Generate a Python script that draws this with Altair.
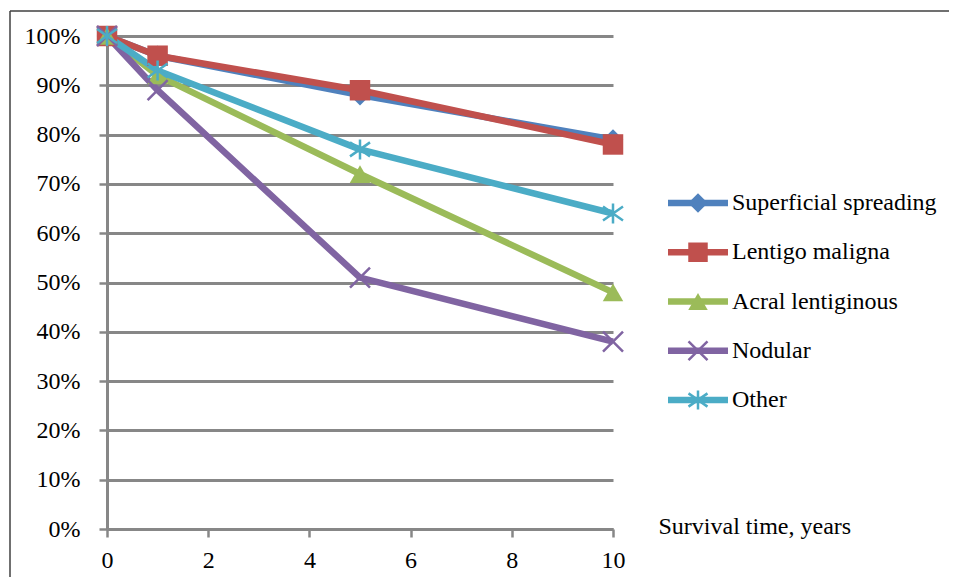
import altair as alt
import pandas as pd

# ---- data ----
years = [0, 1, 5, 10]
series_names = ["Superficial spreading", "Lentigo maligna", "Acral lentiginous", "Nodular", "Other"]
superficial = [100, 96, 88, 79]
lentigo = [100, 96, 89, 78]
acral = [100, 92, 72, 48]
nodular = [100, 89, 51, 38]
other = [100, 93, 77, 64]
x_ticks = [0, 2, 4, 6, 8, 10]
y_ticks = [0.0, 0.1, 0.2, 0.3, 0.4, 0.5, 0.6, 0.7, 0.8, 0.9, 1.0]

# ---- styling ----
colors = ["#4F81BD", "#C0504D", "#9BBB59", "#8064A2", "#4BACC6"]
x_path = "M-1,-1L1,1M-1,1L1,-1"
star_path = "M0,-1L0,1M-1,-0.7L1,0.7M-1,0.7L1,-0.7"
shapes = ["diamond", "square", "triangle-up", x_path, star_path]
filled_series = series_names[:3]
stroked_series = series_names[3:]
FONT = "'Liberation Serif', 'DejaVu Serif', serif"
GRAY = "#878787"

all_vals = [superficial, lentigo, acral, nodular, other]
rows = []
for name, vals in zip(series_names, all_vals):
    for x, v in zip(years, vals):
        rows.append({"series": name, "year": x, "value": v / 100.0})
df = pd.DataFrame(rows)
legend_df = pd.DataFrame({"series": series_names})

color_scale = alt.Scale(domain=series_names, range=colors)
shape_scale = alt.Scale(domain=series_names, range=shapes)

x_enc = alt.X(
    "year:Q",
    scale=alt.Scale(domain=[0, 10], nice=False, zero=False),
    axis=alt.Axis(
        values=x_ticks, grid=False, title="Survival time, years",
        titleX=551, titleY=4, titleAlign="left", titleBaseline="alphabetic",
        titleAngle=0, titleFontWeight="normal", titleFontSize=24, titleFont=FONT,
        titleColor="black", labelPadding=11, tickSize=8, labelFlush=False,
    ),
)
y_enc = alt.Y(
    "value:Q",
    scale=alt.Scale(domain=[0, 1], nice=False),
    axis=alt.Axis(values=y_ticks, format=".0%", title=None, grid=True,
                  tickSize=8, labelPadding=19, labelFlush=False),
)
color_enc = alt.Color("series:N", scale=color_scale, legend=None)
shape_enc = alt.Shape("series:N", scale=shape_scale, legend=None)

base = alt.Chart(df)
lines = base.mark_line(strokeWidth=6.5, strokeCap="butt", strokeJoin="round").encode(
    x=x_enc, y=y_enc, color=color_enc, detail="series:N",
    order=alt.Order("year:Q"),
)
pts_filled = base.transform_filter(
    alt.FieldOneOfPredicate(field="series", oneOf=filled_series)
).mark_point(filled=True, size=420, opacity=1).encode(
    x="year:Q", y="value:Q", color=color_enc, shape=shape_enc
)
pts_stroked = base.transform_filter(
    alt.FieldOneOfPredicate(field="series", oneOf=stroked_series)
).mark_point(filled=False, size=400, strokeWidth=2.5, opacity=1).encode(
    x="year:Q", y="value:Q", color=color_enc, shape=shape_enc
)
main = alt.layer(lines, pts_filled, pts_stroked)

# ---- legend drawn from the series list ----
leg_y = alt.Y("series:N", scale=alt.Scale(type="point", domain=series_names,
                                           range=[167, 364], padding=0), axis=None)
lbase = alt.Chart(legend_df)
leg_line = lbase.mark_rule(strokeWidth=6.5).encode(
    x=alt.value(561), x2=alt.value(621), y=leg_y, color=color_enc
)
leg_pf = lbase.transform_filter(
    alt.FieldOneOfPredicate(field="series", oneOf=filled_series)
).mark_point(filled=True, size=380, opacity=1).encode(
    x=alt.value(591), y=leg_y, color=color_enc, shape=shape_enc
)
leg_ps = lbase.transform_filter(
    alt.FieldOneOfPredicate(field="series", oneOf=stroked_series)
).mark_point(filled=False, size=360, strokeWidth=2.5, opacity=1).encode(
    x=alt.value(591), y=leg_y, color=color_enc, shape=shape_enc
)
leg_text = lbase.mark_text(align="left", baseline="middle", font=FONT,
                           fontSize=24, color="black").encode(
    x=alt.value(625), y=leg_y, text="series:N"
)
legend = alt.layer(leg_line, leg_pf, leg_ps, leg_text)

# ---- outer frame (top and left edges visible) ----
frame_data = alt.Data(values=[{"k": 1}])
frame_top = alt.Chart(frame_data).mark_rule(color="#404040", strokeWidth=1.5).encode(
    x=alt.value(-97), x2=alt.value(850), y=alt.value(-25)
)
frame_left = alt.Chart(frame_data).mark_rule(color="#404040", strokeWidth=1.5).encode(
    x=alt.value(-97), y=alt.value(-25), y2=alt.value(560)
)

chart = alt.layer(frame_top, frame_left, main, legend).resolve_scale(
    y="independent"
).properties(
    width=506, height=493,
    autosize=alt.AutoSizeParams(type="none"),
    padding={"left": 99, "top": 28, "right": 336, "bottom": 48},
    background="white",
).configure_view(stroke=None).configure_axis(
    domainColor=GRAY, domainWidth=3, tickColor=GRAY, tickWidth=2.5,
    gridColor=GRAY, gridWidth=3, gridOpacity=1,
    labelFont=FONT, labelFontSize=24, labelColor="black",
)

chart.save("out.html", embed_options={"renderer": "svg", "actions": False})
